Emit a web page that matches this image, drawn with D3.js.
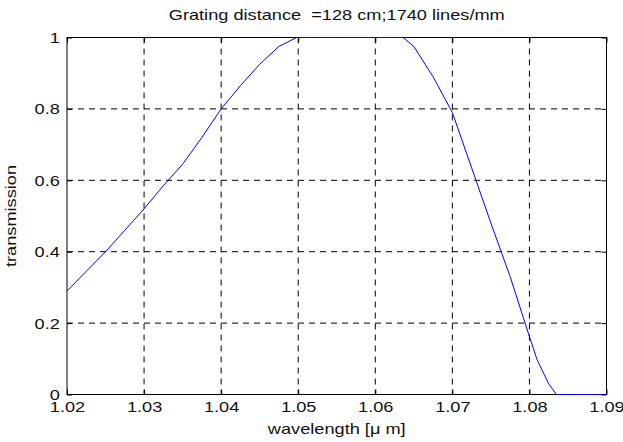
<!DOCTYPE html>
<html lang="en">
<head>
<meta charset="utf-8">
<title>Grating transmission</title>
<script src="https://cdn.jsdelivr.net/npm/d3@7"></script>
<style>
body { margin: 0; background: #fff; }
text { font-family: "Liberation Sans", Arial, sans-serif; }
</style>
</head>
<body>
<script>
// data
var wavelength = [1.02, 1.0225, 1.025, 1.0275, 1.03, 1.0325, 1.035, 1.0375, 1.04, 1.0425,
    1.045, 1.0475, 1.0498, 1.0525, 1.055, 1.0575, 1.06, 1.0625, 1.0636, 1.065, 1.0675,
    1.07, 1.0725, 1.075, 1.0775, 1.08, 1.081, 1.0825, 1.0835, 1.086, 1.09];
var transmission = [0.29, 0.345, 0.40, 0.46, 0.52, 0.585, 0.645, 0.72, 0.80, 0.865,
    0.925, 0.975, 1.0, 1.0, 1.0, 1.0, 1.0, 1.0, 1.0, 0.975, 0.89,
    0.79, 0.635, 0.48, 0.33, 0.162, 0.097, 0.03, 0.0, 0.0, 0.0];
var xTicks = [1.02, 1.03, 1.04, 1.05, 1.06, 1.07, 1.08, 1.09];
var yTicks = [0, 0.2, 0.4, 0.6, 0.8, 1];

var w = 623, h = 442;
var mLeft = 67, mRight = 606.5, mTop = 37.5, mBottom = 394.5;
var fs = 14, stretch = 1.3;   // text looks horizontally stretched in the original

var svg = d3.select("body").append("svg")
    .attr("width", w)
    .attr("height", h);

var x = d3.scaleLinear().domain([1.02, 1.09]).range([mLeft, mRight]);
var y = d3.scaleLinear().domain([0, 1]).range([mBottom, mTop]);

// grid
svg.selectAll("line.vgrid")
    .data(xTicks.slice(1, -1))
    .enter().append("line")
    .attr("class", "vgrid")
    .attr("x1", d => x(d)).attr("x2", d => x(d))
    .attr("y1", mTop).attr("y2", mBottom)
    .attr("stroke", "#000").attr("stroke-width", 1)
    .attr("stroke-dasharray", "6,5");

svg.selectAll("line.hgrid")
    .data(yTicks.slice(1, -1))
    .enter().append("line")
    .attr("class", "hgrid")
    .attr("y1", d => y(d)).attr("y2", d => y(d))
    .attr("x1", mLeft).attr("x2", mRight)
    .attr("stroke", "#000").attr("stroke-width", 1)
    .attr("stroke-dasharray", "6,5");

// box
svg.append("rect")
    .attr("x", mLeft).attr("y", mTop)
    .attr("width", mRight - mLeft).attr("height", mBottom - mTop)
    .attr("fill", "none")
    .attr("stroke", "#000").attr("stroke-width", 1);

// curve (drawn over the box, like the original)
var line = d3.line()
    .x((d, i) => x(wavelength[i]))
    .y(d => y(d));

svg.append("path")
    .datum(transmission)
    .attr("d", line)
    .attr("fill", "none")
    .attr("stroke", "#0000ff")
    .attr("stroke-width", 1);

// axes
var xAxis = d3.axisBottom(x).tickValues(xTicks).tickSize(-5).tickPadding(0)
    .tickFormat(d3.format(".2f"));
var gx = svg.append("g").attr("transform", "translate(0," + mBottom + ")").call(xAxis);
gx.select(".domain").remove();
gx.selectAll(".tick text").attr("y", 18).attr("dy", null);

var yAxis = d3.axisLeft(y).tickValues(yTicks).tickSize(-5).tickPadding(0)
    .tickFormat(d => d === 0 || d === 1 ? d3.format("d")(d) : d3.format(".1f")(d));
var gy = svg.append("g").attr("transform", "translate(" + mLeft + ",0)").call(yAxis);
gy.select(".domain").remove();
gy.selectAll(".tick text").attr("x", -5.5).attr("dy", "0.36em");

var xTop = d3.axisTop(x).tickValues(xTicks).tickSize(-5).tickFormat("");
svg.append("g").attr("transform", "translate(0," + mTop + ")").call(xTop)
    .select(".domain").remove();
var yRight = d3.axisRight(y).tickValues(yTicks).tickSize(-5).tickFormat("");
svg.append("g").attr("transform", "translate(" + mRight + ",0)").call(yRight)
    .select(".domain").remove();

svg.selectAll(".tick text")
    .attr("font-size", fs)
    .attr("font-family", "Liberation Sans, Arial, sans-serif")
    .attr("fill", "#111")
    .attr("transform", "scale(" + stretch + ",1)");
svg.selectAll(".tick line").attr("stroke", "#000");

// labels
svg.append("text")
    .attr("transform", "translate(" + ((mLeft + mRight) / 2) + ",20) scale(" + stretch + ",1)")
    .attr("text-anchor", "middle")
    .attr("font-size", fs)
    .attr("fill", "#111")
    .text("Grating distance  =128 cm;1740 lines/mm")
    .style("white-space", "pre");

svg.append("text")
    .attr("transform", "translate(" + ((mLeft + mRight) / 2) + ",434) scale(" + stretch + ",1)")
    .attr("text-anchor", "middle")
    .attr("font-size", fs)
    .attr("fill", "#111")
    .text("wavelength [\u03bc m]");

svg.append("text")
    .attr("transform", "translate(16," + ((mTop + mBottom) / 2) + ") rotate(-90) scale(" + stretch + ",1)")
    .attr("text-anchor", "middle")
    .attr("font-size", fs)
    .attr("fill", "#111")
    .text("transmission");
</script>
</body>
</html>
